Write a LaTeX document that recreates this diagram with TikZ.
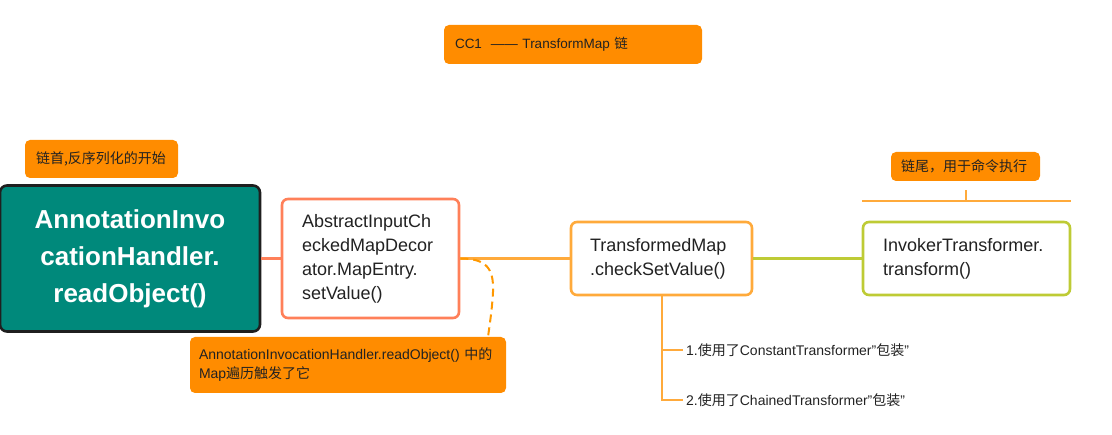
\documentclass[tikz,border=0pt]{standalone}
\usepackage{fontspec}
\setmainfont{Liberation Sans}
\newfontfamily\cjk{Noto Sans CJK SC}
\definecolor{notefill}{HTML}{FF8C00}
\definecolor{rootfill}{HTML}{00897B}
\definecolor{rootline}{HTML}{1F1F1F}
\definecolor{coral}{HTML}{FF8059}
\definecolor{lightorange}{HTML}{FFAA3B}
\definecolor{dashorange}{HTML}{FF9800}
\definecolor{lime}{HTML}{BECB35}
\definecolor{textdark}{HTML}{222222}

\begin{document}
\begin{tikzpicture}[x=1pt, y=-1pt,
        note/.style = {fill=notefill, rounded corners=5pt, text=textdark, align=left,
            inner xsep=11pt, inner ysep=0pt, font=\fontsize{14}{19}\selectfont},
        method/.style = {fill=white, line width=2.6pt, rounded corners=6pt, text=textdark,
            align=left, inner xsep=20pt, inner ysep=0pt, font=\fontsize{18}{24}\selectfont},
        link/.style = {line width=2.6pt},
        branch/.style = {draw=lightorange, line width=2pt},
        leaf/.style = {anchor=west, inner xsep=3pt, inner ysep=0pt, text=textdark,
            font=\fontsize{14}{16}\selectfont}]
    \useasboundingbox (0,0) rectangle (1112,435);

    \node[note, minimum width=258, minimum height=39, text width=236,
        font=\fontsize{13.5}{19}\selectfont] (title) at (573,44.5)
        {CC1\ \ —— TransformMap {\cjk 链}};
    \node[note, minimum width=151, minimum height=38, text width=131] (headnote) at (101.5,159)
        {\cjk 链首,反序列化的开始};

    \node[draw=rootline, fill=rootfill, line width=2.6pt, rounded corners=7pt, text=white,
        align=center, minimum width=260, minimum height=146, inner sep=0pt,
        font=\fontsize{26}{37}\bfseries] (root) at (130,258.5)
        {AnnotationInvo\\cationHandler.\\readObject()};
    \node[method, draw=coral, minimum width=177, minimum height=119, text width=137] (entry) at (370.5,258.5)
        {AbstractInputCh\\eckedMapDecor\\ator.MapEntry.\\setValue()};
    \node[method, draw=lightorange, minimum width=181, minimum height=73, inner xsep=19pt,
        text width=143] (tmap) at (661.5,258.5)
        {TransformedMap\\.checkSetValue()};
    \node[method, draw=lime, minimum width=207, minimum height=73, text width=167] (invoker) at (966.5,258.5)
        {InvokerTransformer.\\transform()};

    \node[note, minimum width=316, minimum height=56, inner xsep=9pt, text width=298] (trignote) at (348,365)
        {AnnotationInvocationHandler.readObject() {\cjk 中的}\\Map{\cjk 遍历触发了它}};
    \node[note, minimum width=149, minimum height=29, text width=129, inner xsep=10pt] (tailnote) at (965.5,166.5)
        {\cjk 链尾，用于命令执行};

    \node[leaf] (child1) at (683,350) {1.{\cjk 使用了}ConstantTransformer"{\cjk 包装}"};
    \node[leaf] (child2) at (683,400) {2.{\cjk 使用了}ChainedTransformer"{\cjk 包装}"};

    % main chain
    \draw[link, coral] (root.east) -- (entry.west);
    \draw[link, lightorange] (entry.east) -- (tmap.west);
    \draw[link, lime] (tmap.east) -- (invoker.west);

    % who triggers setValue
    \coordinate (trigend) at (488,337);
    \draw[dashorange, line width=2pt, dash pattern=on 8pt off 5pt]
        (entry.east) .. controls (486,258.5) and (494,268) .. (493,292)
        .. controls (492,310) and (490,322) .. (trigend);

    % summary over the tail
    \coordinate (sumleft) at (862,201);
    \coordinate (sumright) at (1071,201);
    \coordinate (sumtick) at (966,190);
    \draw[lightorange, line width=2pt] (sumleft) -- (sumright) (sumtick |- sumleft) -- (sumtick);

    % transformers
    \draw[branch] (tmap.south) |- (child1.west);
    \draw[branch] (tmap.south) |- (child2.west);
\end{tikzpicture}
\end{document}
